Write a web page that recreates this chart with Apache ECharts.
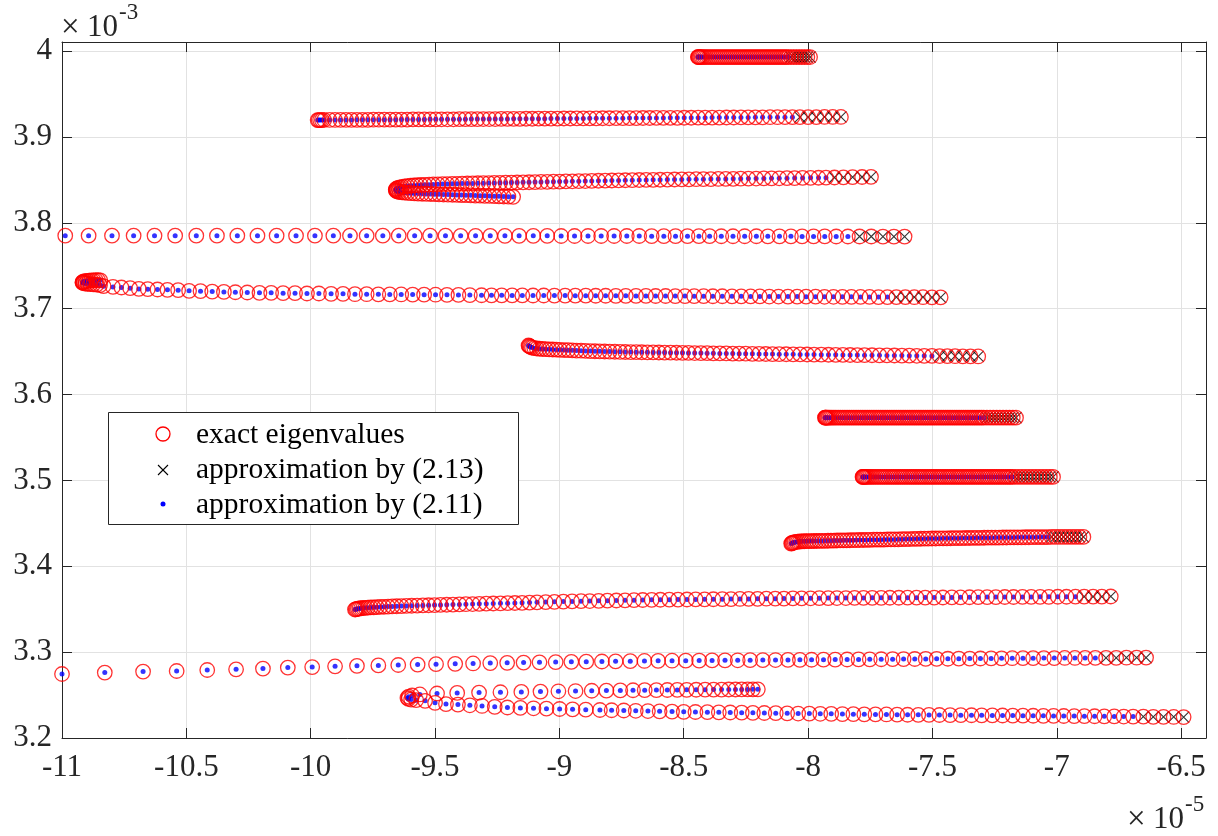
<!DOCTYPE html>
<html><head><meta charset="utf-8">
<script src="https://cdn.jsdelivr.net/npm/echarts@6/dist/echarts.min.js"></script>
<style>html,body{margin:0;padding:0;background:#fff}#chart{width:1218px;height:836px}</style>
</head><body><div id="chart"></div>
<script>
const curve1 = [[-8.443,3.993],[-8.442,3.993],[-8.440,3.993],[-8.437,3.993],[-8.433,3.993],[-8.428,3.993],[-8.422,3.993],[-8.415,3.993],[-8.408,3.993],[-8.400,3.993],[-8.392,3.993],[-8.384,3.993],[-8.376,3.993],[-8.368,3.993],[-8.360,3.993],[-8.352,3.993],[-8.344,3.993],[-8.336,3.993],[-8.328,3.993],[-8.320,3.993],[-8.312,3.993],[-8.304,3.993],[-8.296,3.993],[-8.288,3.993],[-8.280,3.993],[-8.272,3.993],[-8.264,3.993],[-8.256,3.993],[-8.248,3.993],[-8.240,3.993],[-8.232,3.993],[-8.224,3.993],[-8.216,3.993],[-8.208,3.993],[-8.200,3.993],[-8.192,3.993],[-8.184,3.993],[-8.176,3.993],[-8.168,3.993],[-8.160,3.993],[-8.152,3.993],[-8.144,3.993],[-8.136,3.993],[-8.128,3.993],[-8.120,3.993],[-8.112,3.993],[-8.104,3.993],[-8.096,3.993],[-8.088,3.993],[-8.080,3.993],[-8.069,3.993],[-8.058,3.993],[-8.047,3.993],[-8.036,3.993],[-8.025,3.993],[-8.014,3.993],[-8.003,3.993],[-7.992,3.993]];
const curve2 = [[-9.972,3.9196],[-9.968,3.9196],[-9.962,3.9196],[-9.955,3.9196],[-9.946,3.9197],[-9.924,3.9197],[-9.902,3.9197],[-9.880,3.9198],[-9.858,3.9198],[-9.836,3.9198],[-9.814,3.9199],[-9.792,3.9199],[-9.770,3.9199],[-9.748,3.9200],[-9.726,3.9200],[-9.704,3.9201],[-9.681,3.9201],[-9.658,3.9201],[-9.635,3.9202],[-9.612,3.9202],[-9.589,3.9203],[-9.566,3.9203],[-9.543,3.9203],[-9.520,3.9204],[-9.497,3.9204],[-9.474,3.9205],[-9.450,3.9205],[-9.426,3.9205],[-9.402,3.9206],[-9.378,3.9206],[-9.354,3.9207],[-9.330,3.9207],[-9.306,3.9208],[-9.282,3.9208],[-9.258,3.9208],[-9.234,3.9209],[-9.209,3.9209],[-9.184,3.9210],[-9.159,3.9210],[-9.134,3.9211],[-9.109,3.9211],[-9.084,3.9212],[-9.059,3.9212],[-9.034,3.9213],[-9.008,3.9213],[-8.982,3.9214],[-8.956,3.9214],[-8.930,3.9215],[-8.904,3.9215],[-8.878,3.9216],[-8.852,3.9216],[-8.826,3.9217],[-8.799,3.9217],[-8.772,3.9218],[-8.745,3.9218],[-8.718,3.9219],[-8.691,3.9219],[-8.664,3.9220],[-8.637,3.9220],[-8.610,3.9221],[-8.582,3.9221],[-8.554,3.9222],[-8.526,3.9222],[-8.498,3.9223],[-8.470,3.9223],[-8.442,3.9224],[-8.414,3.9224],[-8.386,3.9225],[-8.357,3.9225],[-8.328,3.9226],[-8.299,3.9226],[-8.270,3.9227],[-8.241,3.9227],[-8.212,3.9228],[-8.183,3.9228],[-8.153,3.9229],[-8.123,3.9229],[-8.093,3.9230],[-8.063,3.9230],[-8.033,3.9231],[-8.000,3.9231],[-7.967,3.9231],[-7.934,3.9232],[-7.901,3.9232],[-7.868,3.9232]];
const curve3 = [[-9.186,3.8302],[-9.205,3.8304],[-9.224,3.8306],[-9.243,3.8308],[-9.262,3.8310],[-9.281,3.8312],[-9.300,3.8314],[-9.319,3.8316],[-9.338,3.8317],[-9.357,3.8319],[-9.376,3.8321],[-9.394,3.8322],[-9.412,3.8324],[-9.430,3.8326],[-9.448,3.8328],[-9.466,3.8329],[-9.484,3.8331],[-9.501,3.8333],[-9.518,3.8335],[-9.535,3.8336],[-9.552,3.8338],[-9.568,3.8340],[-9.583,3.8342],[-9.597,3.8344],[-9.610,3.8347],[-9.622,3.8350],[-9.633,3.8353],[-9.642,3.8357],[-9.649,3.8362],[-9.654,3.8368],[-9.657,3.8375],[-9.658,3.8383],[-9.657,3.8391],[-9.654,3.8399],[-9.648,3.8406],[-9.641,3.8412],[-9.632,3.8418],[-9.622,3.8423],[-9.611,3.8427],[-9.599,3.8431],[-9.586,3.8434],[-9.572,3.8437],[-9.557,3.8440],[-9.541,3.8442],[-9.524,3.8444],[-9.507,3.8446],[-9.489,3.8448],[-9.470,3.8450],[-9.451,3.8451],[-9.431,3.8453],[-9.411,3.8454],[-9.391,3.8456],[-9.370,3.8457],[-9.349,3.8458],[-9.328,3.8460],[-9.306,3.8461],[-9.284,3.8462],[-9.262,3.8464],[-9.239,3.8465],[-9.216,3.8467],[-9.193,3.8468],[-9.170,3.8469],[-9.146,3.8471],[-9.122,3.8472],[-9.098,3.8474],[-9.074,3.8475],[-9.049,3.8477],[-9.024,3.8478],[-8.999,3.8480],[-8.974,3.8481],[-8.948,3.8483],[-8.922,3.8484],[-8.896,3.8486],[-8.870,3.8487],[-8.843,3.8489],[-8.816,3.8490],[-8.789,3.8492],[-8.762,3.8493],[-8.735,3.8495],[-8.707,3.8496],[-8.679,3.8498],[-8.651,3.8499],[-8.623,3.8500],[-8.595,3.8501],[-8.566,3.8503],[-8.537,3.8504],[-8.508,3.8505],[-8.479,3.8506],[-8.450,3.8507],[-8.421,3.8508],[-8.391,3.8509],[-8.361,3.8510],[-8.331,3.8511],[-8.301,3.8512],[-8.271,3.8513],[-8.240,3.8514],[-8.209,3.8515],[-8.178,3.8516],[-8.147,3.8517],[-8.116,3.8518],[-8.085,3.8519],[-8.054,3.8520],[-8.022,3.8522],[-7.990,3.8523],[-7.958,3.8524],[-7.928,3.8525],[-7.894,3.8527],[-7.858,3.8529],[-7.821,3.8531],[-7.783,3.8533],[-7.747,3.8535]];
const curve4 = [[-10.987,3.785],[-10.893,3.785],[-10.799,3.785],[-10.712,3.785],[-10.628,3.785],[-10.545,3.785],[-10.460,3.785],[-10.377,3.785],[-10.295,3.785],[-10.214,3.785],[-10.137,3.785],[-10.059,3.785],[-9.983,3.785],[-9.909,3.785],[-9.842,3.785],[-9.775,3.785],[-9.710,3.785],[-9.646,3.785],[-9.582,3.785],[-9.520,3.785],[-9.458,3.785],[-9.397,3.7848],[-9.337,3.7848],[-9.278,3.7848],[-9.219,3.7848],[-9.162,3.7848],[-9.105,3.7848],[-9.049,3.7848],[-8.993,3.7846],[-8.939,3.7846],[-8.885,3.7846],[-8.832,3.7846],[-8.780,3.7846],[-8.729,3.7846],[-8.679,3.7846],[-8.629,3.7844],[-8.580,3.7844],[-8.533,3.7844],[-8.485,3.7844],[-8.439,3.7844],[-8.396,3.7844],[-8.349,3.7843],[-8.302,3.7843],[-8.255,3.7843],[-8.208,3.7843],[-8.162,3.7842],[-8.115,3.7842],[-8.069,3.7842],[-8.024,3.7841],[-7.978,3.7841],[-7.933,3.7841],[-7.887,3.7840],[-7.840,3.7840],[-7.793,3.7840],[-7.746,3.7840],[-7.699,3.7839],[-7.655,3.7839],[-7.612,3.7839]];
const curve5 = [[-10.846,3.7330],[-10.855,3.7331],[-10.864,3.7331],[-10.873,3.7330],[-10.882,3.7329],[-10.891,3.7327],[-10.899,3.7324],[-10.906,3.7320],[-10.912,3.7316],[-10.916,3.7311],[-10.918,3.7306],[-10.917,3.7301],[-10.913,3.7296],[-10.906,3.7292],[-10.897,3.7289],[-10.886,3.7286],[-10.874,3.7283],[-10.861,3.7280],[-10.847,3.7274],[-10.833,3.7262],[-10.795,3.7253],[-10.761,3.7246],[-10.726,3.7238],[-10.691,3.7230],[-10.655,3.7227],[-10.616,3.7223],[-10.576,3.7219],[-10.533,3.7215],[-10.489,3.7207],[-10.443,3.7203],[-10.396,3.7199],[-10.349,3.7195],[-10.303,3.7191],[-10.255,3.7188],[-10.206,3.7184],[-10.159,3.7184],[-10.111,3.7180],[-10.063,3.7180],[-10.015,3.7176],[-9.967,3.7176],[-9.918,3.7172],[-9.870,3.7172],[-9.822,3.7168],[-9.775,3.7168],[-9.728,3.7167],[-9.682,3.7166],[-9.636,3.7165],[-9.590,3.7164],[-9.544,3.7163],[-9.498,3.7162],[-9.452,3.7161],[-9.406,3.7160],[-9.360,3.7158],[-9.313,3.7156],[-9.273,3.7155],[-9.232,3.7155],[-9.190,3.7154],[-9.149,3.7154],[-9.106,3.7153],[-9.063,3.7153],[-9.020,3.7152],[-8.977,3.7152],[-8.936,3.7151],[-8.894,3.7151],[-8.854,3.7150],[-8.814,3.7150],[-8.773,3.7149],[-8.733,3.7149],[-8.692,3.7148],[-8.652,3.7148],[-8.613,3.7147],[-8.573,3.7147],[-8.534,3.7146],[-8.495,3.7146],[-8.458,3.7145],[-8.420,3.7145],[-8.383,3.7144],[-8.345,3.7144],[-8.306,3.7143],[-8.269,3.7143],[-8.231,3.7142],[-8.194,3.7142],[-8.156,3.7141],[-8.119,3.7141],[-8.081,3.7140],[-8.044,3.7140],[-8.008,3.7139],[-7.970,3.7139],[-7.934,3.7138],[-7.898,3.7138],[-7.862,3.7137],[-7.826,3.7137],[-7.789,3.7136],[-7.753,3.7136],[-7.717,3.7135],[-7.681,3.7135],[-7.645,3.7134],[-7.609,3.7134],[-7.573,3.7133],[-7.538,3.7133],[-7.502,3.7132],[-7.467,3.7132]];
const curve6 = [[-9.124,3.6571],[-9.122,3.6566],[-9.119,3.6560],[-9.115,3.6553],[-9.110,3.6546],[-9.101,3.6540],[-9.091,3.6536],[-9.080,3.6533],[-9.068,3.6530],[-9.055,3.6528],[-9.041,3.6526],[-9.027,3.6524],[-9.012,3.6522],[-8.997,3.6520],[-8.981,3.6518],[-8.965,3.6516],[-8.948,3.6514],[-8.931,3.6512],[-8.913,3.6510],[-8.895,3.6508],[-8.876,3.6506],[-8.857,3.6504],[-8.838,3.6503],[-8.818,3.6501],[-8.798,3.6500],[-8.777,3.6498],[-8.756,3.6497],[-8.735,3.6495],[-8.713,3.6494],[-8.691,3.6493],[-8.669,3.6492],[-8.646,3.6491],[-8.623,3.6490],[-8.600,3.6489],[-8.577,3.6488],[-8.553,3.6487],[-8.529,3.6486],[-8.505,3.6485],[-8.481,3.6484],[-8.456,3.6483],[-8.431,3.6482],[-8.406,3.6481],[-8.381,3.6480],[-8.355,3.6479],[-8.329,3.6478],[-8.303,3.6477],[-8.277,3.6476],[-8.251,3.6475],[-8.224,3.6474],[-8.197,3.6473],[-8.170,3.6472],[-8.143,3.6471],[-8.116,3.6470],[-8.088,3.6469],[-8.060,3.6468],[-8.032,3.6467],[-8.004,3.6466],[-7.976,3.6465],[-7.947,3.6464],[-7.918,3.6463],[-7.889,3.6462],[-7.860,3.6461],[-7.831,3.6460],[-7.802,3.6459],[-7.773,3.6458],[-7.743,3.6457],[-7.713,3.6456],[-7.683,3.6455],[-7.653,3.6454],[-7.623,3.6453],[-7.593,3.6452],[-7.563,3.6451],[-7.533,3.6450],[-7.502,3.6449],[-7.471,3.6448],[-7.440,3.6447],[-7.409,3.6446],[-7.378,3.6445],[-7.347,3.6444],[-7.316,3.6443]];
const curve7 = [[-7.932,3.573],[-7.931,3.573],[-7.929,3.573],[-7.926,3.573],[-7.922,3.573],[-7.917,3.573],[-7.911,3.573],[-7.904,3.573],[-7.896,3.573],[-7.888,3.573],[-7.879,3.573],[-7.870,3.573],[-7.861,3.573],[-7.852,3.573],[-7.843,3.573],[-7.834,3.573],[-7.825,3.573],[-7.816,3.573],[-7.807,3.573],[-7.798,3.573],[-7.789,3.573],[-7.780,3.573],[-7.771,3.573],[-7.762,3.573],[-7.753,3.573],[-7.744,3.573],[-7.735,3.573],[-7.726,3.573],[-7.717,3.573],[-7.708,3.573],[-7.699,3.573],[-7.690,3.573],[-7.681,3.573],[-7.672,3.573],[-7.663,3.573],[-7.654,3.573],[-7.645,3.573],[-7.636,3.573],[-7.627,3.573],[-7.618,3.573],[-7.609,3.573],[-7.600,3.573],[-7.591,3.573],[-7.582,3.573],[-7.573,3.573],[-7.564,3.573],[-7.555,3.573],[-7.546,3.573],[-7.537,3.573],[-7.528,3.573],[-7.519,3.573],[-7.510,3.573],[-7.501,3.573],[-7.492,3.573],[-7.483,3.573],[-7.474,3.573],[-7.465,3.573],[-7.456,3.573],[-7.447,3.573],[-7.438,3.573],[-7.429,3.573],[-7.420,3.573],[-7.411,3.573],[-7.402,3.573],[-7.393,3.573],[-7.384,3.573],[-7.375,3.573],[-7.366,3.573],[-7.357,3.573],[-7.348,3.573],[-7.339,3.573],[-7.330,3.573],[-7.321,3.573],[-7.312,3.573],[-7.303,3.573],[-7.294,3.573],[-7.281,3.573],[-7.268,3.573],[-7.255,3.573],[-7.242,3.573],[-7.229,3.573],[-7.216,3.573],[-7.203,3.573],[-7.190,3.573],[-7.177,3.573],[-7.164,3.573]];
const curve8 = [[-7.781,3.504],[-7.780,3.504],[-7.778,3.504],[-7.775,3.504],[-7.771,3.504],[-7.766,3.504],[-7.760,3.504],[-7.753,3.504],[-7.745,3.504],[-7.737,3.504],[-7.728,3.504],[-7.719,3.504],[-7.710,3.504],[-7.701,3.504],[-7.692,3.504],[-7.683,3.504],[-7.674,3.504],[-7.665,3.504],[-7.656,3.504],[-7.647,3.504],[-7.638,3.504],[-7.629,3.504],[-7.620,3.504],[-7.611,3.504],[-7.602,3.504],[-7.593,3.504],[-7.584,3.504],[-7.575,3.504],[-7.566,3.504],[-7.557,3.504],[-7.548,3.504],[-7.539,3.504],[-7.530,3.504],[-7.521,3.504],[-7.512,3.504],[-7.503,3.504],[-7.494,3.504],[-7.485,3.504],[-7.476,3.504],[-7.467,3.504],[-7.458,3.504],[-7.449,3.504],[-7.440,3.504],[-7.431,3.504],[-7.422,3.504],[-7.413,3.504],[-7.404,3.504],[-7.395,3.504],[-7.386,3.504],[-7.377,3.504],[-7.368,3.504],[-7.359,3.504],[-7.350,3.504],[-7.341,3.504],[-7.332,3.504],[-7.323,3.504],[-7.314,3.504],[-7.305,3.504],[-7.296,3.504],[-7.287,3.504],[-7.278,3.504],[-7.269,3.504],[-7.260,3.504],[-7.251,3.504],[-7.242,3.504],[-7.233,3.504],[-7.224,3.504],[-7.215,3.504],[-7.206,3.504],[-7.197,3.504],[-7.188,3.504],[-7.180,3.504],[-7.168,3.504],[-7.154,3.504],[-7.140,3.504],[-7.126,3.504],[-7.112,3.504],[-7.098,3.504],[-7.084,3.504],[-7.070,3.504],[-7.056,3.504],[-7.042,3.504],[-7.028,3.504],[-7.015,3.504]];
const curve9 = [[-8.068,3.4264],[-8.066,3.4268],[-8.063,3.4272],[-8.059,3.4276],[-8.054,3.4280],[-8.048,3.4283],[-8.041,3.4286],[-8.033,3.4288],[-8.025,3.4290],[-8.016,3.4291],[-8.007,3.4292],[-7.997,3.4293],[-7.987,3.4293],[-7.977,3.4294],[-7.966,3.4294],[-7.955,3.4295],[-7.944,3.4295],[-7.932,3.4296],[-7.920,3.4297],[-7.908,3.4298],[-7.896,3.4299],[-7.884,3.4300],[-7.871,3.4301],[-7.858,3.4302],[-7.845,3.4302],[-7.832,3.4303],[-7.819,3.4304],[-7.806,3.4305],[-7.793,3.4306],[-7.779,3.4306],[-7.765,3.4307],[-7.751,3.4308],[-7.737,3.4309],[-7.723,3.4310],[-7.709,3.4310],[-7.695,3.4311],[-7.681,3.4312],[-7.667,3.4313],[-7.652,3.4313],[-7.637,3.4314],[-7.622,3.4315],[-7.607,3.4316],[-7.592,3.4317],[-7.577,3.4318],[-7.562,3.4319],[-7.547,3.4320],[-7.532,3.4321],[-7.517,3.4322],[-7.502,3.4323],[-7.487,3.4323],[-7.472,3.4324],[-7.457,3.4325],[-7.442,3.4325],[-7.427,3.4326],[-7.412,3.4327],[-7.397,3.4327],[-7.382,3.4328],[-7.367,3.4329],[-7.352,3.4329],[-7.337,3.4330],[-7.322,3.4331],[-7.307,3.4331],[-7.292,3.4332],[-7.277,3.4333],[-7.262,3.4333],[-7.247,3.4334],[-7.232,3.4334],[-7.217,3.4335],[-7.202,3.4335],[-7.187,3.4336],[-7.172,3.4336],[-7.157,3.4337],[-7.142,3.4337],[-7.127,3.4338],[-7.112,3.4338],[-7.097,3.4339],[-7.082,3.4339],[-7.067,3.4340],[-7.052,3.4340],[-7.037,3.4340],[-7.021,3.4341],[-7.005,3.4341],[-6.989,3.4341],[-6.973,3.4341],[-6.957,3.4342],[-6.941,3.4342],[-6.925,3.4342],[-6.909,3.4342],[-6.893,3.4342]];
const curve10 = [[-9.822,3.3496],[-9.819,3.3499],[-9.815,3.3502],[-9.810,3.3505],[-9.804,3.3508],[-9.797,3.3511],[-9.789,3.3514],[-9.780,3.3516],[-9.770,3.3518],[-9.759,3.3520],[-9.747,3.3522],[-9.734,3.3524],[-9.720,3.3526],[-9.705,3.3528],[-9.689,3.3530],[-9.672,3.3532],[-9.654,3.3534],[-9.635,3.3536],[-9.615,3.3538],[-9.594,3.3540],[-9.572,3.3542],[-9.549,3.3544],[-9.526,3.3546],[-9.502,3.3548],[-9.478,3.3550],[-9.453,3.3552],[-9.428,3.3554],[-9.402,3.3556],[-9.376,3.3558],[-9.349,3.3560],[-9.322,3.3562],[-9.294,3.3564],[-9.266,3.3566],[-9.237,3.3568],[-9.208,3.3570],[-9.179,3.3572],[-9.150,3.3574],[-9.120,3.3577],[-9.090,3.3580],[-9.055,3.3583],[-9.020,3.3586],[-8.984,3.3589],[-8.949,3.3591],[-8.913,3.3593],[-8.878,3.3595],[-8.842,3.3597],[-8.807,3.3599],[-8.771,3.3601],[-8.736,3.3603],[-8.700,3.3605],[-8.665,3.3607],[-8.629,3.3609],[-8.594,3.3610],[-8.558,3.3611],[-8.523,3.3612],[-8.487,3.3613],[-8.452,3.3614],[-8.416,3.3615],[-8.381,3.3616],[-8.345,3.3617],[-8.310,3.3618],[-8.274,3.3619],[-8.239,3.3620],[-8.203,3.3621],[-8.168,3.3622],[-8.132,3.3623],[-8.097,3.3624],[-8.061,3.3625],[-8.026,3.3626],[-7.990,3.3627],[-7.955,3.3628],[-7.919,3.3629],[-7.884,3.3630],[-7.848,3.3630],[-7.813,3.3631],[-7.777,3.3631],[-7.742,3.3632],[-7.706,3.3632],[-7.671,3.3633],[-7.635,3.3633],[-7.600,3.3634],[-7.564,3.3634],[-7.529,3.3635],[-7.493,3.3635],[-7.458,3.3636],[-7.422,3.3637],[-7.387,3.3638],[-7.351,3.3639],[-7.316,3.3640],[-7.280,3.3641],[-7.245,3.3641],[-7.209,3.3642],[-7.174,3.3642],[-7.138,3.3643],[-7.103,3.3643],[-7.067,3.3644],[-7.032,3.3644],[-6.996,3.3645],[-6.961,3.3645],[-6.925,3.3646],[-6.890,3.3646],[-6.854,3.3647],[-6.819,3.3647],[-6.783,3.3648]];
const curve11 = [[-11.000,3.2745],[-10.828,3.2762],[-10.674,3.2773],[-10.539,3.2780],[-10.416,3.2792],[-10.300,3.2800],[-10.192,3.2808],[-10.092,3.2820],[-9.994,3.2826],[-9.902,3.2835],[-9.814,3.2840],[-9.728,3.2845],[-9.648,3.2850],[-9.570,3.2855],[-9.496,3.2860],[-9.419,3.2864],[-9.347,3.2868],[-9.278,3.2872],[-9.210,3.2875],[-9.144,3.2878],[-9.080,3.2881],[-9.015,3.2884],[-8.952,3.2887],[-8.892,3.2889],[-8.829,3.2891],[-8.774,3.2893],[-8.715,3.2895],[-8.658,3.2897],[-8.603,3.2899],[-8.547,3.2900],[-8.492,3.2901],[-8.438,3.2902],[-8.386,3.2903],[-8.334,3.2904],[-8.283,3.2905],[-8.233,3.2906],[-8.182,3.2907],[-8.131,3.2908],[-8.081,3.2909],[-8.033,3.2910],[-7.986,3.2911],[-7.938,3.2912],[-7.891,3.2913],[-7.843,3.2914],[-7.797,3.2915],[-7.752,3.2916],[-7.706,3.2917],[-7.660,3.2918],[-7.616,3.2919],[-7.571,3.2920],[-7.527,3.2921],[-7.483,3.2922],[-7.438,3.2923],[-7.394,3.2924],[-7.350,3.2925],[-7.307,3.2926],[-7.264,3.2927],[-7.222,3.2928],[-7.179,3.2929],[-7.136,3.2930],[-7.095,3.2930],[-7.052,3.2931],[-7.010,3.2931],[-6.968,3.2932],[-6.927,3.2932],[-6.886,3.2933],[-6.845,3.2933],[-6.802,3.2934],[-6.761,3.2934],[-6.720,3.2935],[-6.679,3.2935],[-6.641,3.2936]];
const curve12 = [[-8.202,3.2567],[-8.222,3.2567],[-8.243,3.2566],[-8.267,3.2566],[-8.292,3.2565],[-8.319,3.2565],[-8.348,3.2564],[-8.380,3.2564],[-8.414,3.2563],[-8.450,3.2562],[-8.488,3.2561],[-8.526,3.2560],[-8.566,3.2559],[-8.610,3.2558],[-8.657,3.2557],[-8.704,3.2556],[-8.755,3.2554],[-8.811,3.2552],[-8.870,3.2550],[-8.935,3.2547],[-9.004,3.2544],[-9.076,3.2541],[-9.153,3.2537],[-9.237,3.2533],[-9.323,3.2529],[-9.411,3.2525],[-9.492,3.2518],[-9.561,3.2507],[-9.592,3.2495],[-9.606,3.2481],[-9.611,3.2467],[-9.607,3.2455],[-9.596,3.2447],[-9.576,3.2441],[-9.540,3.2433],[-9.500,3.2410],[-9.456,3.2395],[-9.408,3.2389],[-9.360,3.2381],[-9.311,3.2373],[-9.260,3.2363],[-9.209,3.2355],[-9.157,3.2350],[-9.104,3.2346],[-9.052,3.2342],[-8.999,3.2338],[-8.947,3.2334],[-8.894,3.2330],[-8.837,3.2326],[-8.790,3.2323],[-8.741,3.2320],[-8.693,3.2317],[-8.644,3.2314],[-8.597,3.2311],[-8.547,3.2308],[-8.500,3.2305],[-8.453,3.2303],[-8.405,3.2301],[-8.359,3.2299],[-8.313,3.2297],[-8.267,3.2295],[-8.222,3.2293],[-8.176,3.2291],[-8.130,3.2289],[-8.084,3.2287],[-8.040,3.2285],[-7.995,3.2284],[-7.951,3.2282],[-7.907,3.2281],[-7.862,3.2279],[-7.818,3.2278],[-7.774,3.2276],[-7.729,3.2275],[-7.685,3.2274],[-7.642,3.2272],[-7.600,3.2271],[-7.557,3.2270],[-7.514,3.2269],[-7.472,3.2268],[-7.429,3.2267],[-7.386,3.2266],[-7.343,3.2265],[-7.302,3.2264],[-7.259,3.2263],[-7.218,3.2262],[-7.177,3.2261],[-7.136,3.2260],[-7.095,3.2259],[-7.054,3.2258],[-7.013,3.2257],[-6.972,3.2256],[-6.930,3.2255],[-6.889,3.2254],[-6.848,3.2253],[-6.809,3.2252],[-6.769,3.2251],[-6.731,3.2250],[-6.693,3.2249],[-6.652,3.2248],[-6.612,3.2247],[-6.571,3.2246],[-6.530,3.2245],[-6.490,3.2244]];

// Number of trailing points of each branch where only approximation (2.13) is shown
const crossCounts = [8, 6, 5, 5, 6, 6, 10, 12, 9, 4, 5, 5];
const seriesNames = ['exact eigenvalues', 'approximation by (2.13)', 'approximation by (2.11)'];
const xRange = [-11, -6.4];
const yRange = [3.2, 4.0105];

const curves = [curve1, curve2, curve3, curve4, curve5, curve6, curve7, curve8, curve9, curve10, curve11, curve12];
const exactPts = [], crossPts = [], dotPts = [];
curves.forEach((c, i) => {
  const n = c.length, k = crossCounts[i];
  c.forEach(p => exactPts.push(p));
  c.slice(0, n - k).forEach(p => dotPts.push(p));
  c.slice(n - k).forEach(p => crossPts.push(p));
});

const FONT = '"Liberation Serif","Times New Roman",serif';
const AX = '#262626';
const chart = echarts.init(document.getElementById('chart'), null, {renderer: 'canvas'});

function xAx(pos, labels) {
  return {
    type: 'value', position: pos, min: xRange[0], max: xRange[1], interval: 0.5,
    axisLine: {show: true, onZero: false, lineStyle: {color: AX, width: 1}},
    axisTick: {show: true, inside: true, length: 10, lineStyle: {color: AX, width: 1}},
    axisLabel: {show: labels, color: AX, fontFamily: FONT, fontSize: 31, margin: 14, showMaxLabel: false, showMinLabel: true},
    splitLine: {show: labels, lineStyle: {color: '#e2e2e2', width: 1}}
  };
}
function yAx(pos, labels) {
  return {
    type: 'value', position: pos, min: yRange[0], max: yRange[1], interval: 0.1,
    axisLine: {show: true, onZero: false, lineStyle: {color: AX, width: 1}},
    axisTick: {show: true, inside: true, length: 10, lineStyle: {color: AX, width: 1}},
    axisLabel: {show: labels, color: AX, fontFamily: FONT, fontSize: 31, margin: 10, showMaxLabel: false, showMinLabel: true},
    splitLine: {show: labels, lineStyle: {color: '#e2e2e2', width: 1}}
  };
}

const txt = (x, y, s, size, color) => ({type: 'text', x: x, y: y, z: 101,
  style: {text: s, font: size + 'px ' + FONT, fill: color, textVerticalAlign: 'middle', verticalAlign: 'middle'}});

const option = {
  animation: false,
  backgroundColor: '#ffffff',
  grid: {left: 62, right: 12, top: 42, bottom: 98, containLabel: false, outerBoundsMode: 'none'},
  xAxis: [xAx('bottom', true), xAx('top', false)],
  yAxis: [yAx('left', true), yAx('right', false)],
  series: [
    {
      name: seriesNames[1], type: 'scatter', data: crossPts, z: 2,
      symbol: 'path://M0,0L10,10M10,0L0,10', symbolSize: 11,
      itemStyle: {color: 'rgba(0,0,0,0)', borderColor: '#000000', borderWidth: 1.1},
      silent: true, emphasis: {disabled: true}, progressive: 0, large: false
    },
    {
      name: seriesNames[2], type: 'scatter', data: dotPts, z: 3,
      symbol: 'circle', symbolSize: 5,
      itemStyle: {color: '#0000ff'},
      silent: true, emphasis: {disabled: true}, progressive: 0, large: false
    },
    {
      name: seriesNames[0], type: 'scatter', data: exactPts, z: 4,
      symbol: 'circle', symbolSize: 14.5,
      itemStyle: {color: 'rgba(0,0,0,0)', borderColor: '#ff0000', borderWidth: 1.3},
      silent: true, emphasis: {disabled: true}, progressive: 0, large: false
    }
  ],
  graphic: [
    txt(61, 28, '\u00d7', 33, AX),
    txt(87, 28, '10', 31, AX),
    txt(119, 13, '-3', 23, AX),
    txt(1127, 820, '\u00d7', 33, AX),
    txt(1153, 820, '10', 31, AX),
    txt(1185, 805, '-5', 23, AX),
    {type: 'rect', z: 100, shape: {x: 108.5, y: 412.5, width: 410, height: 112}, style: {fill: '#ffffff', stroke: AX, lineWidth: 1}},
    {type: 'circle', z: 101, shape: {cx: 163, cy: 434, r: 7}, style: {fill: 'none', stroke: '#ff0000', lineWidth: 1.3}},
    {type: 'line', z: 101, shape: {x1: 158, y1: 465, x2: 168, y2: 475}, style: {stroke: '#000000', lineWidth: 1.1}},
    {type: 'line', z: 101, shape: {x1: 168, y1: 465, x2: 158, y2: 475}, style: {stroke: '#000000', lineWidth: 1.1}},
    {type: 'circle', z: 101, shape: {cx: 163, cy: 504, r: 2.5}, style: {fill: '#0000ff'}},
    txt(196, 435, seriesNames[0], 29.5, '#000000'),
    txt(196, 470, seriesNames[1], 29.5, '#000000'),
    txt(196, 505, seriesNames[2], 29.5, '#000000')
  ]
};
chart.setOption(option);
</script>
</body></html>
